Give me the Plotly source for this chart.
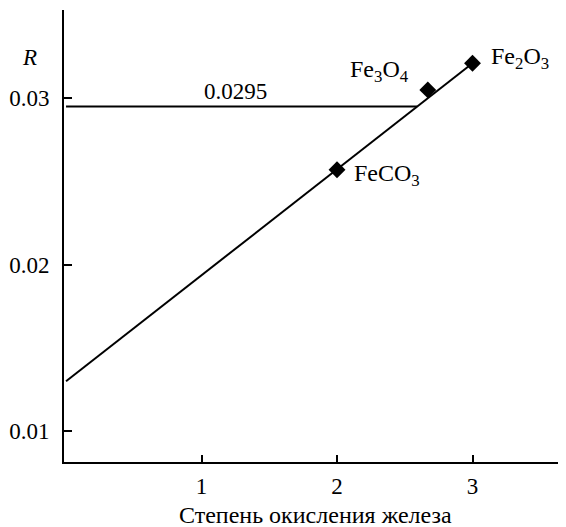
import plotly.graph_objects as go

# --- data ---
compounds = ["FeCO<sub>3</sub>", "Fe<sub>3</sub>O<sub>4</sub>", "Fe<sub>2</sub>O<sub>3</sub>"]
ox_states = [2.0, 2.67, 3.0]
R_values = [0.0257, 0.0305, 0.0321]
fit_x = [0.0, 3.0]
fit_R = [0.0130, 0.0321]
ref_R = 0.0295
ref_x = [0.0, 2.59]
x_ticks = [1, 2, 3]
y_ticks = [0.01, 0.02, 0.03]
y_tick_labels = ["0.01", "0.02", "0.03"]

FONT = "Liberation Serif"

fig = go.Figure()
fig.add_trace(go.Scatter(x=fit_x, y=fit_R, mode="lines",
                         line=dict(color="black", width=2), showlegend=False))
fig.add_trace(go.Scatter(x=ref_x, y=[ref_R, ref_R], mode="lines",
                         line=dict(color="black", width=2), showlegend=False))
fig.add_trace(go.Scatter(x=ox_states, y=R_values, mode="markers",
                         marker=dict(symbol="diamond", size=13, color="black"),
                         showlegend=False))

# compound labels
offsets = [(15, -5, "left"), (-17, 19, "right"), (16, 5, "left")]
for name, xv, yv, (dx, dy, anc) in zip(compounds, ox_states, R_values, offsets):
    fig.add_annotation(x=xv, y=yv, text=name, showarrow=False,
                       xanchor=anc, yanchor="middle", xshift=dx, yshift=dy,
                       font=dict(family=FONT, size=24, color="black"))

fig.add_annotation(x=1.25, y=ref_R, text=f"{ref_R}", showarrow=False,
                   xanchor="center", yanchor="middle", yshift=15,
                   font=dict(family=FONT, size=23, color="black"))

fig.add_annotation(xref="paper", yref="paper", x=-0.0697, y=0.896,
                   text="<i>R</i>", showarrow=False, xanchor="center", yanchor="middle",
                   font=dict(family=FONT, size=23, color="black"))

fig.add_annotation(xref="paper", yref="paper", x=0.5, y=-0.118,
                   text="Степень окисления железа", showarrow=False,
                   xanchor="center", yanchor="middle",
                   font=dict(family=FONT, size=24, color="black"))

# the page body has an 8 px margin, so the figure is 8 px smaller and margins compensate
fig.update_layout(
    width=558, height=519,
    margin=dict(l=56, r=0, t=2, b=64.5, autoexpand=False),
    paper_bgcolor="white", plot_bgcolor="white",
    font=dict(family=FONT, size=23, color="black"),
    xaxis=dict(range=[-0.015, 3.69], tickvals=x_ticks, ticktext=[str(t) for t in x_ticks],
               showgrid=False, zeroline=False, showline=True, linecolor="black", linewidth=2,
               ticks="inside", ticklen=7, tickwidth=1.5, tickcolor="black",
               ticklabelstandoff=2),
    yaxis=dict(range=[0.00815, 0.0353], tickvals=y_ticks, ticktext=y_tick_labels,
               showgrid=False, zeroline=False, showline=True, linecolor="black", linewidth=2,
               ticks="inside", ticklen=8, tickwidth=1.5, tickcolor="black",
               ticklabelstandoff=8),
)

fig.write_html("out.html")
